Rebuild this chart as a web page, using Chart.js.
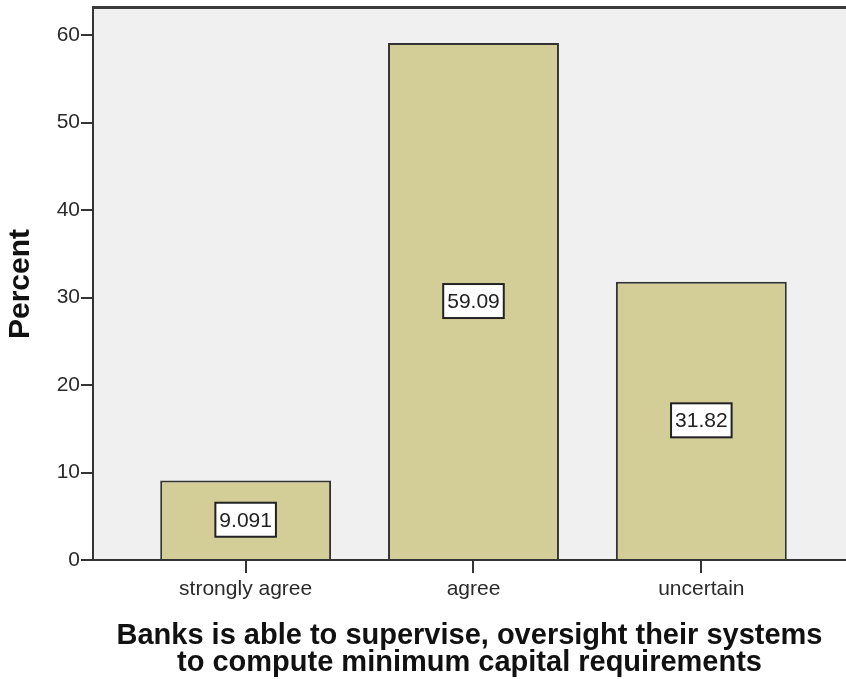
<!DOCTYPE html>
<html>
<head>
<meta charset="utf-8">
<script src="https://cdn.jsdelivr.net/npm/chart.js@4/dist/chart.umd.min.js"></script>
<style>
  html, body { margin: 0; padding: 0; background: #fff; overflow: hidden; }
  canvas { display: block; }
</style>
</head>
<body>
<canvas id="chart" width="846" height="679"></canvas>
<script>
// data
const categories = ["strongly agree", "agree", "uncertain"];
const percents = [9.091, 59.09, 31.82];
const yTicks = [0, 10, 20, 30, 40, 50, 60];
const xTitle = ["Banks is able to supervise, oversight their systems", "to compute minimum capital requirements"];
const yTitle = "Percent";

const FONT = "'Liberation Sans', Arial, sans-serif";

// grey plot background + top frame line
const plotArea = {
	id: "plotArea",
	beforeDraw(chart) {
		const { ctx, chartArea: a } = chart;
		ctx.save();
		ctx.fillStyle = "#f0f0f0";
		ctx.fillRect(a.left, a.top, a.right - a.left, a.bottom - a.top);
		ctx.restore();
	},
	afterDraw(chart) {
		const { ctx, chartArea: a } = chart;
		ctx.save();
		ctx.fillStyle = "#3a3a3a";
		ctx.fillRect(a.left - 1, a.top - 2, a.right - a.left + 1, 3);
		ctx.restore();
	},
};

// boxed value labels in the middle of each bar
const valueLabels = {
	id: "valueLabels",
	afterDatasetsDraw(chart) {
		const { ctx } = chart;
		const meta = chart.getDatasetMeta(0);
		ctx.save();
		ctx.font = "21px " + FONT;
		ctx.textAlign = "center";
		ctx.textBaseline = "middle";
		meta.data.forEach((bar, i) => {
			const text = percents[i].toPrecision(4);
			const cx = bar.x;
			const cy = (bar.y + bar.base) / 2;
			const w = ctx.measureText(text).width + 8;
			const h = 34;
			ctx.fillStyle = "#fff";
			ctx.fillRect(cx - w / 2, cy - h / 2, w, h);
			ctx.strokeStyle = "#222";
			ctx.lineWidth = 2;
			ctx.strokeRect(cx - w / 2, cy - h / 2, w, h);
			ctx.fillStyle = "#222";
			ctx.fillText(text, cx, cy + 1);
		});
		ctx.restore();
	},
};

const ctx = document.getElementById("chart").getContext("2d");
new Chart(ctx, {
	type: "bar",
	data: {
		datasets: [
			{
				label: yTitle,
				data: percents.map((v, i) => ({ x: i, y: v })),
				backgroundColor: "#d3ce97",
				borderColor: "#333",
				borderWidth: 2,
				barPercentage: 0.75,
				categoryPercentage: 1,
			},
		],
	},
	options: {
		responsive: false,
		animation: false,
		devicePixelRatio: 1,
		layout: { padding: { top: 8, right: 0, bottom: 0, left: 0 } },
		plugins: { legend: { display: false }, tooltip: { enabled: false } },
		scales: {
			x: {
				type: "linear",
				bounds: "data",
				min: -0.67,
				max: 2.635,
				offset: false,
				afterBuildTicks: (axis) => {
					axis.ticks = categories.map((c, i) => ({ value: i }));
				},
				afterFit: (axis) => {
					axis.height = 119;
					axis.paddingLeft = 0;
					axis.paddingRight = 0;
				},
				grid: { offset: false, drawOnChartArea: false, tickLength: 13, color: "#333", lineWidth: 2 },
				border: { color: "#333", width: 2 },
				ticks: {
					callback: (v) => categories[v],
					font: { family: FONT, size: 21 },
					color: "#2a2a2a",
					padding: 4,
					maxRotation: 0,
					autoSkip: false,
				},
				title: {
					display: true,
					text: xTitle,
					font: { family: FONT, size: 29, weight: "bold", lineHeight: 0.93 },
					color: "#111",
					padding: { top: 0, bottom: 3 },
				},
			},
			y: {
				bounds: "data",
				min: 0,
				max: 63.1,
				afterBuildTicks: (axis) => {
					axis.ticks = yTicks.map((v) => ({ value: v }));
				},
				afterFit: (axis) => {
					axis.width = 93;
					axis.paddingTop = 0;
					axis.paddingBottom = 0;
				},
				grid: { drawOnChartArea: false, tickLength: 12, color: "#333", lineWidth: 2 },
				border: { color: "#333", width: 2 },
				ticks: { font: { family: FONT, size: 21 }, color: "#2a2a2a", padding: 1 },
				title: {
					display: true,
					text: yTitle,
					font: { family: FONT, size: 30, weight: "bold" },
					color: "#111",
					padding: { top: 3, bottom: 0 },
				},
			},
		},
	},
	plugins: [plotArea, valueLabels],
});
</script>
</body>
</html>
